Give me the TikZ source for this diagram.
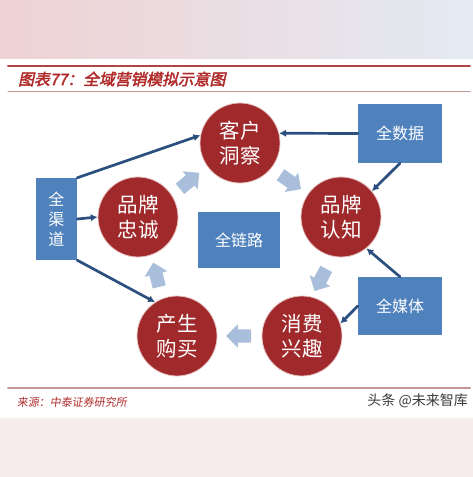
\documentclass[tikz,border=0pt]{standalone}
\usepackage{fontspec}
\setmainfont{Noto Sans CJK SC}
\newfontfamily\qyhead[FakeSlant=0.22,FakeBold=2.5]{Noto Sans CJK SC}
\newfontfamily\qynote[FakeSlant=0.12]{Noto Sans CJK SC}
\usepackage{tikz}
\usetikzlibrary{arrows.meta,shapes.arrows}
\definecolor{qyRed}{HTML}{A0292B}
\definecolor{qyRim}{HTML}{E6C3C3}
\definecolor{qyBlue}{HTML}{4F81BD}
\definecolor{qyNavy}{HTML}{2B4F7E}
\definecolor{qyPale}{HTML}{A9BEDB}
\definecolor{qyTitle}{HTML}{B02A2A}
\definecolor{qyRule}{HTML}{B04545}
\definecolor{qyRuleLight}{HTML}{C49494}
\definecolor{qyGrey}{HTML}{3A3A3A}
\definecolor{qyBandA}{HTML}{EFD2D3}
\definecolor{qyBandB}{HTML}{F6ECEC}
\definecolor{qyBandC}{HTML}{E4EAF3}
\tikzset{
  qy diagram/.style={x=1pt, y=-1pt, line cap=round, line join=round},
  qy stage/.style={circle, fill=qyRed, draw=qyRim, line width=0.8pt,
    minimum size=80pt, inner sep=0pt, text=white, align=center,
    font=\fontsize{20.5}{25}\selectfont},
  qy source/.style={rectangle, fill=qyBlue, text=white, align=center,
    inner sep=0pt, font=\fontsize{16}{20}\selectfont},
  qy link/.style={-{Latex[length=2.4mm,width=2.6mm]}, draw=qyNavy,
    line width=2.7pt},
  qy flow/.style={single arrow, fill=qyPale, minimum height=25pt,
    minimum width=23pt, inner sep=6.5pt, single arrow head extend=5pt},
  qy caption/.style={anchor=west, inner sep=0pt}
}
\begin{document}
\begin{tikzpicture}[qy diagram]
\useasboundingbox (0,0) rectangle (473,477);
% blurred page edges
\shade[left color=qyBandA, middle color=qyBandB, right color=qyBandC] (0,0) rectangle (473,58);
\shade[left color=qyBandB, middle color=qyBandA, right color=qyBandB] (0,418) rectangle (473,477);
% header and footer
\draw[qyRule, line width=2pt] (8,66) -- (470,66);
\draw[qyRuleLight, line width=1pt] (8,91) -- (470,91);
\draw[qyRuleLight, line width=2pt] (8,388) -- (470,388);
\node[qy caption, text=qyTitle] (title) at (18,79)
  {\qyhead\fontsize{15.8}{18}\selectfont 图表77：全域营销模拟示意图};
\node[qy caption, text=qyTitle] (note) at (17,402)
  {\qynote\fontsize{11}{13}\selectfont 来源：中泰证券研究所};
\node[anchor=east, inner sep=0pt, text=qyGrey] (mark) at (468,401)
  {\fontsize{14}{16}\selectfont 头条 @未来智库};
% stages
\node[qy stage] (insight) at (240,143) {客户\\洞察};
\node[qy stage] (loyalty) at (138,217) {品牌\\忠诚};
\node[qy stage] (aware) at (341,217) {品牌\\认知};
\node[qy stage] (buy) at (177,336) {产生\\购买};
\node[qy stage] (interest) at (302,336) {消费\\兴趣};
% sources
\node[qy source, minimum width=41pt, minimum height=82pt] (channel) at (56.5,219) {全\\渠\\道};
\node[qy source, minimum width=82pt, minimum height=56pt] (chain) at (239,240) {全链路};
\node[qy source, minimum width=84pt, minimum height=59pt] (data) at (400,133.5) {全数据};
\node[qy source, minimum width=84pt, minimum height=58pt] (media) at (400,306) {全媒体};
% cycle
\node[qy flow, rotate=40] (f1) at (187,183) {};
\node[qy flow, rotate=-35] (f2) at (288,180) {};
\node[qy flow, rotate=-118] (f3) at (322,277) {};
\node[qy flow, rotate=180] (f4) at (242,336) {};
\node[qy flow, rotate=104] (f5) at (157,278) {};
% links
\draw[qy link] (channel.north east) -- (insight.169);
\draw[qy link] (channel.east) -- (loyalty.west);
\draw[qy link] (channel.south east) -- (buy.123);
\draw[qy link] (data.west) -- (insight.14);
\draw[qy link] (data.south) -- (aware.40);
\draw[qy link] (media.north) -- (aware.-51);
\draw[qy link] (media.west) -- (interest.18);
\end{tikzpicture}
\end{document}
